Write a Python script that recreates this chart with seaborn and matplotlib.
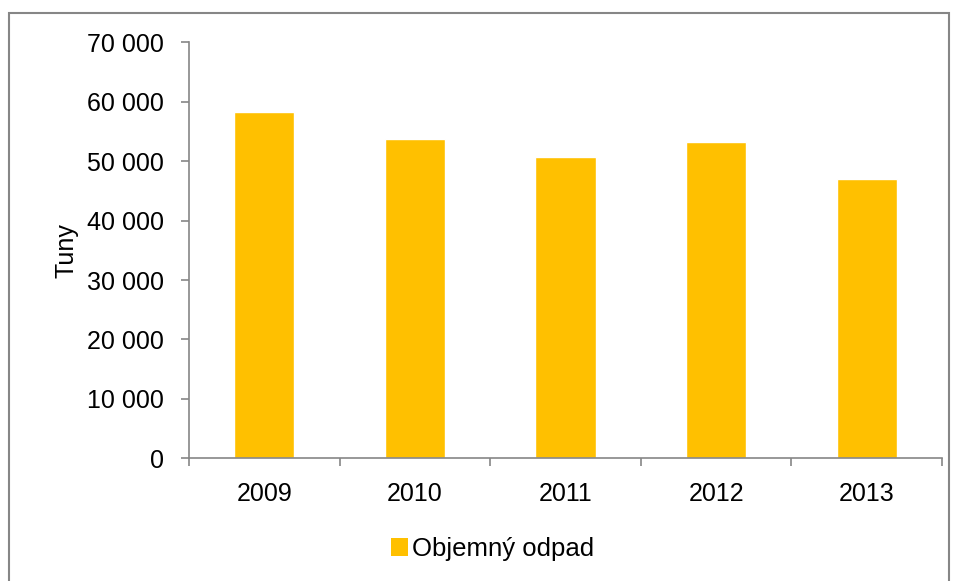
import pandas as pd
import seaborn as sns
import matplotlib.pyplot as plt
from matplotlib.patches import Rectangle, Patch
from matplotlib.ticker import FuncFormatter, FixedLocator

# Data
years = ["2009", "2010", "2011", "2012", "2013"]
tonnes = [58250, 53700, 50670, 53200, 46970]
series_name = "Objemný odpad"

df = pd.DataFrame({"Rok": years, "Tuny": tonnes})

sns.set_style("white")
plt.rcParams["font.family"] = ["Liberation Sans", "DejaVu Sans"]
plt.rcParams["text.color"] = "black"
plt.rcParams["xtick.color"] = "black"
plt.rcParams["ytick.color"] = "black"
plt.rcParams["axes.labelcolor"] = "black"

fig = plt.figure(figsize=(9.56, 5.81), dpi=100)
ax = fig.add_axes([0.1977, 0.2112, 0.7877, 0.7157])

bar_color = "#FFC000"
sns.barplot(data=df, x="Rok", y="Tuny", color=bar_color, width=0.4,
            saturation=1, ax=ax)

ax.set_ylim(0, 70000)
ax.set_xlim(-0.5, len(years) - 0.5)
ax.set_yticks(range(0, 70001, 10000))
ax.yaxis.set_major_formatter(FuncFormatter(lambda v, p: f"{int(v):,}".replace(",", " ")))

# Excel-style ticks between categories
ax.xaxis.set_minor_locator(FixedLocator([i - 0.5 for i in range(len(years) + 1)]))
ax.tick_params(axis="x", which="major", bottom=True, length=0, pad=17,
               labelsize=18)
ax.tick_params(axis="x", which="minor", bottom=True, length=6, width=1.2,
               color="#868686", direction="out")
ax.tick_params(axis="y", left=True, length=6, width=1.2, color="#868686",
               labelcolor="black", direction="out", pad=12, labelsize=18)

for side in ["top", "right"]:
    ax.spines[side].set_visible(False)
for side in ["left", "bottom"]:
    ax.spines[side].set_color("#868686")
    ax.spines[side].set_linewidth(1.2)

ax.set_xlabel("")
ax.set_ylabel("Tuny", fontsize=18, labelpad=6)

# Legend below the plot
handles = [Patch(facecolor=bar_color, edgecolor="none", label=series_name)]
fig.legend(handles=handles, loc="center", bbox_to_anchor=(0.515, 0.055),
           frameon=False, fontsize=18.5, handlelength=0.65, handleheight=0.65,
           handletextpad=0.15)

# Chart area border
fig.patches.append(Rectangle((9 / 956, -0.05), 940 / 956, 1.05 - 13 / 581,
                             transform=fig.transFigure, fill=False,
                             edgecolor="#868686", linewidth=1.5))

fig.savefig("out.png", dpi=100)
plt.close(fig)
